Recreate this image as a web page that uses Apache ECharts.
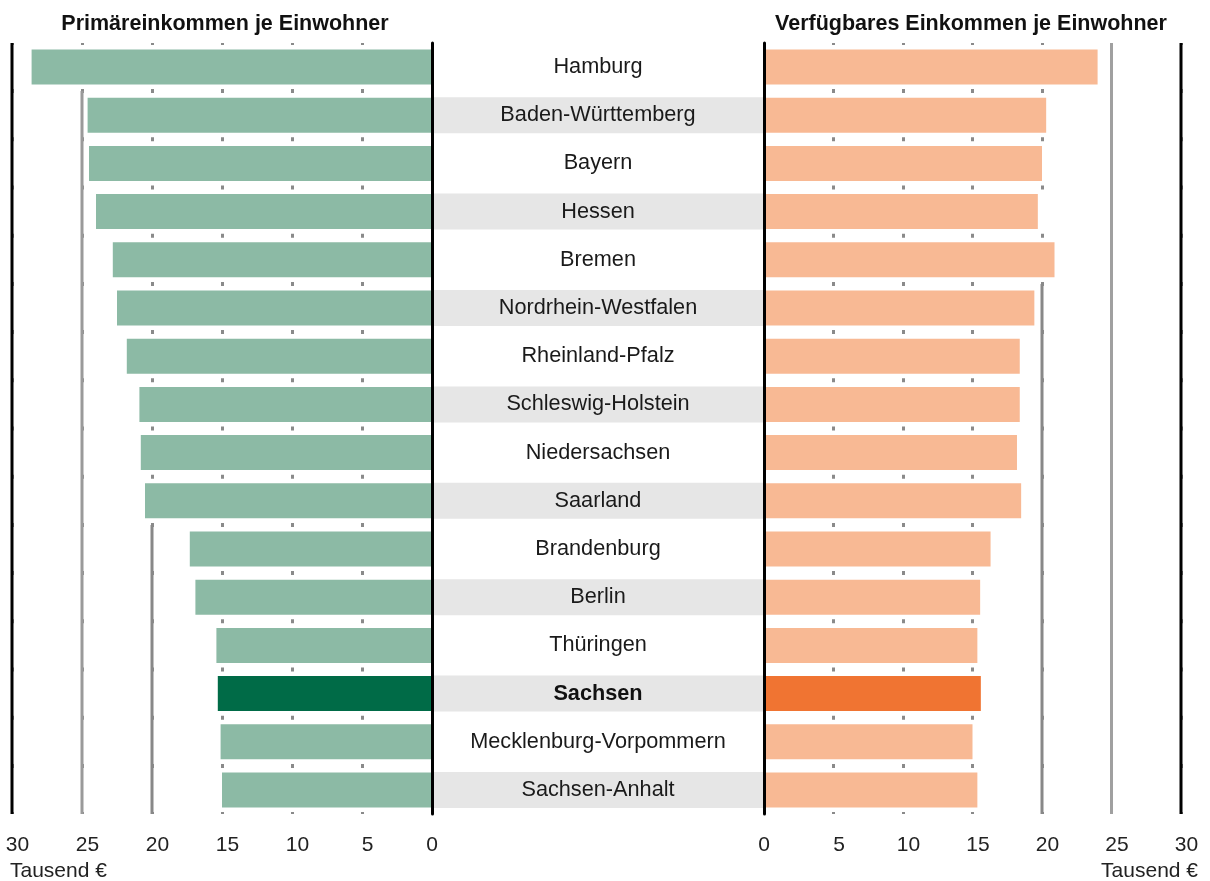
<!DOCTYPE html>
<html>
<head>
<meta charset="utf-8">
<script src="https://cdn.jsdelivr.net/npm/echarts@6/dist/echarts.min.js"></script>
<style>
  html, body { margin: 0; padding: 0; background: #fff; }
  #chart { width: 1210px; height: 881px; }
</style>
</head>
<body>
<div id="chart"></div>
<script>
// Bundesländer, von oben nach unten
const laender = [
  'Hamburg', 'Baden-Württemberg', 'Bayern', 'Hessen', 'Bremen',
  'Nordrhein-Westfalen', 'Rheinland-Pfalz', 'Schleswig-Holstein', 'Niedersachsen', 'Saarland',
  'Brandenburg', 'Berlin', 'Thüringen', 'Sachsen', 'Mecklenburg-Vorpommern', 'Sachsen-Anhalt'
];
// Primäreinkommen je Einwohner (Tausend €)
const primaer = [28.6, 24.6, 24.5, 24.0, 22.8, 22.5, 21.8, 20.9, 20.8, 20.5, 17.3, 16.9, 15.4, 15.3, 15.1, 15.0];
// Verfügbares Einkommen je Einwohner (Tausend €)
const verfuegbar = [24.0, 20.3, 20.0, 19.7, 20.9, 19.45, 18.4, 18.4, 18.2, 18.5, 16.3, 15.55, 15.35, 15.6, 15.0, 15.35];
// graue Streifen hinter den Namen (1 = Streifen)
const streifen = [0, 1, 0, 1, 0, 1, 0, 1, 0, 1, 0, 1, 0, 1, 0, 1];
const xTicks = [0, 5, 10, 15, 20, 25, 30];
// senkrechte Linien: [Wert, ab Zeilengrenze, Farbe]
const linienLinks = [[30, 0, '#000'], [25, 1, '#9a9a9a'], [20, 10, '#888']];
const linienRechts = [[30, 0, '#000'], [25, 0, '#a0a0a0'], [20, 5, '#888']];
const hervorgehoben = 'Sachsen';

const chart = echarts.init(document.getElementById('chart'));
const font = '"Liberation Sans", Arial, sans-serif';

const gridTop = 42.9;
const gridHeight = 771.2;
const rows = laender.length;

const dotLine = {
  show: true,
  lineStyle: { color: '#8a8a8a', width: 3, type: [4, 44.2], dashOffset: 2 }
};

const valueAxis = (gridIndex, inverse) => ({
  type: 'value',
  gridIndex: gridIndex,
  inverse: inverse,
  min: 0,
  max: 30,
  interval: 5,
  axisLine: { show: false },
  axisTick: { show: false },
  axisLabel: {
    show: true,
    margin: 21,
    fontFamily: font,
    fontSize: 21,
    color: '#222',
    formatter: v => {
      if (xTicks.indexOf(v) < 0) return '';
      return v === 0 ? '{z|0}' : '{n|' + v + '}';
    },
    rich: {
      z: { fontFamily: font, fontSize: 21, color: '#222' },
      n: { fontFamily: font, fontSize: 21, color: '#222', padding: [0, 0, 0, 11] }
    }
  },
  splitLine: dotLine
});

const catAxis = (gridIndex, position) => ({
  type: 'category',
  gridIndex: gridIndex,
  data: laender,
  inverse: true,
  position: position,
  z: 10,
  axisLine: { show: true, onZero: false, lineStyle: { color: '#000', width: 3 } },
  axisTick: { show: false },
  axisLabel: { show: false }
});

// unsichtbare Zeilenachse für die senkrechten Linien
const rowAxis = gridIndex => ({
  type: 'value', gridIndex: gridIndex, inverse: true, min: 0, max: rows, show: false
});

const lineSeries = (list, xIdx, yIdx) => list.map(l => ({
  type: 'line',
  xAxisIndex: xIdx, yAxisIndex: yIdx,
  symbol: 'none',
  silent: true,
  z: 3,
  lineStyle: { color: l[2], width: 3 },
  data: [[l[0], l[1]], [l[0], rows]]
}));

const option = {
  backgroundColor: '#fff',
  animation: false,
  title: [
    {
      text: 'Primäreinkommen je Einwohner',
      left: 220, top: 8, textAlign: 'center',
      textStyle: { fontFamily: font, fontSize: 21.5, fontWeight: 'bold', color: '#111' }
    },
    {
      text: 'Verfügbares Einkommen je Einwohner',
      left: 966, top: 8, textAlign: 'center',
      textStyle: { fontFamily: font, fontSize: 21.5, fontWeight: 'bold', color: '#111' }
    }
  ],
  grid: [
    { left: 12, right: 778, top: gridTop, height: gridHeight },
    { left: 432, right: 446, top: gridTop, height: gridHeight },
    { left: 764, right: 29, top: gridTop, height: gridHeight }
  ],
  xAxis: [
    valueAxis(0, true),
    { type: 'value', gridIndex: 1, min: 0, max: 1, show: false },
    valueAxis(2, false)
  ],
  yAxis: [
    catAxis(0, 'right'),
    { type: 'category', gridIndex: 1, data: laender, inverse: true, show: false },
    catAxis(2, 'left'),
    rowAxis(0),
    rowAxis(2)
  ],
  graphic: [
    {
      type: 'text', left: 10, top: 861,
      style: { text: 'Tausend €', font: '21px ' + font, fill: '#222' }
    },
    {
      type: 'text', right: 12, top: 861,
      style: { text: 'Tausend €', font: '21px ' + font, fill: '#222' }
    }
  ],
  series: [
    {
      type: 'bar',
      xAxisIndex: 0, yAxisIndex: 0,
      barWidth: 35,
      z: 4,
      data: primaer.map((v, i) => ({
        value: v,
        itemStyle: { color: laender[i] === hervorgehoben ? '#006b47' : '#8cbaa5' }
      }))
    },
    {
      type: 'bar',
      xAxisIndex: 1, yAxisIndex: 1,
      barWidth: 36,
      z: 1,
      data: streifen.map(s => ({
        value: 1,
        itemStyle: { color: s ? '#e6e6e6' : 'rgba(0,0,0,0)' }
      })),
      label: {
        show: true,
        position: 'inside',
        fontFamily: font,
        fontSize: 21.7,
        color: '#1a1a1a',
        formatter: p => (p.name === hervorgehoben ? '{b|' + p.name + '}' : p.name),
        rich: { b: { fontFamily: font, fontSize: 21.7, fontWeight: 'bold', color: '#111' } }
      }
    },
    {
      type: 'bar',
      xAxisIndex: 2, yAxisIndex: 2,
      barWidth: 35,
      z: 4,
      data: verfuegbar.map((v, i) => ({
        value: v,
        itemStyle: { color: laender[i] === hervorgehoben ? '#f07432' : '#f8b994' }
      }))
    }
  ]
    .concat(lineSeries(linienLinks, 0, 3))
    .concat(lineSeries(linienRechts, 2, 4))
};

chart.setOption(option);
</script>
</body>
</html>
